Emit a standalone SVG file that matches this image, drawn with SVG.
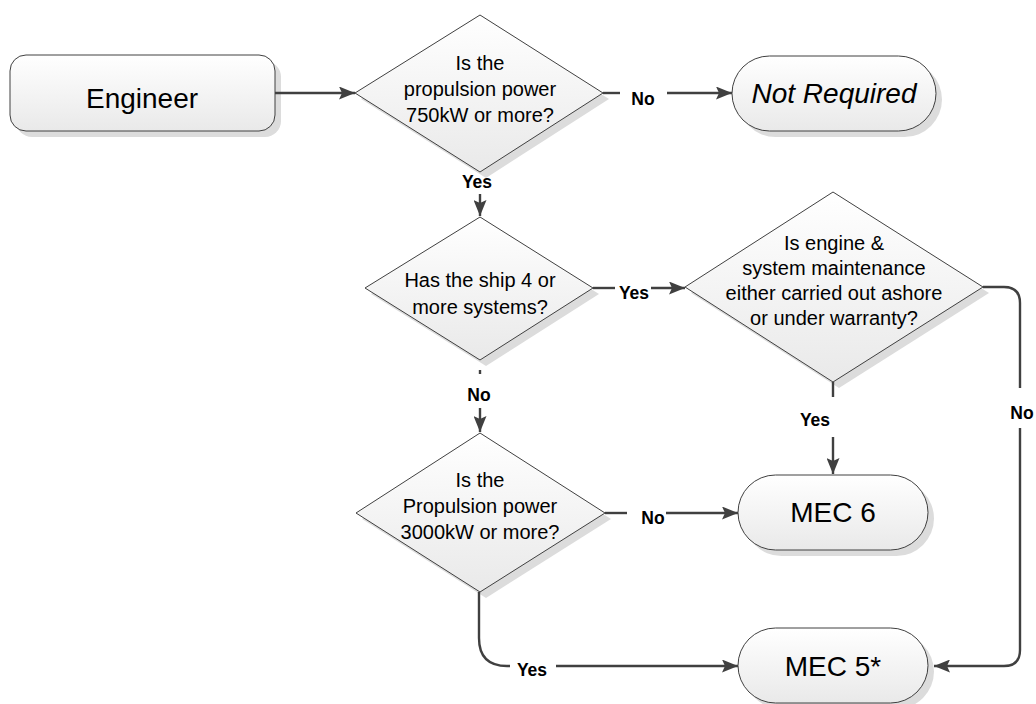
<svg xmlns="http://www.w3.org/2000/svg" width="1036" height="704" viewBox="0 0 1036 704">
<defs>
<linearGradient id="fillg" x1="0" y1="0" x2="0" y2="1">
<stop offset="0" stop-color="#ffffff"/>
<stop offset="1" stop-color="#e9e9e9"/>
</linearGradient>
<marker id="arr" markerUnits="userSpaceOnUse" viewBox="0 0 16 13" markerWidth="16" markerHeight="13" refX="16" refY="6.5" orient="auto">
<path d="M0,0 L16,6.5 L0,13 L3,6.5 z" fill="#404040"/>
</marker>
<style>
.shape{fill:url(#fillg);stroke:#404040;stroke-width:1}
.shadow{fill:#dcdcdc}
.txt{font-family:"Liberation Sans",Arial,sans-serif;fill:#000;text-anchor:middle}
.q{font-size:20px}
.big{font-size:28px}
.lbl{font-family:"Liberation Sans",Arial,sans-serif;font-weight:bold;font-size:17.5px;fill:#000;text-anchor:middle}
.con{fill:none;stroke:#404040;stroke-width:2.4}
</style>
</defs>
<rect width="1036" height="704" fill="#ffffff"/>

<g id="engineer">
<rect x="16" y="61" width="265" height="76" rx="16" class="shadow"/>
<rect x="10" y="55" width="265" height="76" rx="16" class="shape"/>
<text x="142" y="108" class="txt big">Engineer</text>
</g>

<g id="q1">
<polygon points="486,21 609,99 486,178 361,99" class="shadow"/>
<polygon points="480,15 603,93 480,172 355,93" class="shape"/>
<text class="txt q"><tspan x="480" y="70">Is the</tspan><tspan x="480" y="96">propulsion power</tspan><tspan x="480" y="122">750kW or more?</tspan></text>
</g>

<g id="notrequired">
<rect x="738" y="62" width="204" height="75" rx="37.5" class="shadow"/>
<rect x="732" y="56" width="204" height="75" rx="37.5" class="shape"/>
<text x="834" y="103" class="txt big" font-style="italic">Not Required</text>
</g>

<g id="q2">
<polygon points="486,223 599,294 486,366 371,294" class="shadow"/>
<polygon points="480,217 593,288 480,360 365,288" class="shape"/>
<text class="txt q"><tspan x="480" y="287">Has the ship 4 or</tspan><tspan x="480" y="314">more systems?</tspan></text>
</g>

<g id="q3">
<polygon points="839,198 989,293 839,388 691,293" class="shadow"/>
<polygon points="833,192 983,287 833,382 685,287" class="shape"/>
<text class="txt q"><tspan x="834" y="250">Is engine &amp;</tspan><tspan x="834" y="275">system maintenance</tspan><tspan x="834" y="300">either carried out ashore</tspan><tspan x="834" y="325">or under warranty?</tspan></text>
</g>

<g id="q4">
<polygon points="486,439 611,519 486,598 362,519" class="shadow"/>
<polygon points="480,433 605,513 480,592 356,513" class="shape"/>
<text class="txt q"><tspan x="480" y="487">Is the</tspan><tspan x="480" y="513">Propulsion power</tspan><tspan x="480" y="539">3000kW or more?</tspan></text>
</g>

<g id="mec6">
<rect x="744" y="481" width="190" height="75" rx="37.5" class="shadow"/>
<rect x="738" y="475" width="190" height="75" rx="37.5" class="shape"/>
<text x="833" y="522" class="txt big">MEC 6</text>
</g>

<g id="mec5">
<rect x="744" y="634" width="190" height="75" rx="37.5" class="shadow"/>
<rect x="738" y="628" width="190" height="75" rx="37.5" class="shape"/>
<text x="833" y="676" class="txt big">MEC 5*</text>
</g>

<g id="connectors">
<path d="M275,93 L355,93" class="con" marker-end="url(#arr)"/>
<path d="M603,93 L620,93" class="con"/>
<path d="M667,93 L732,93" class="con" marker-end="url(#arr)"/>
<path d="M480,194 L480,216" class="con" marker-end="url(#arr)"/>
<path d="M593,288 L615,288" class="con"/>
<path d="M651,288 L685,288" class="con" marker-end="url(#arr)"/>
<path d="M480,370 L480,374" class="con" stroke-width="1"/>
<path d="M480,408 L480,432" class="con" marker-end="url(#arr)"/>
<path d="M833,382 L833,397" class="con"/>
<path d="M833,437 L833,474" class="con" marker-end="url(#arr)"/>
<path d="M983,287 L1004,287 Q1020,287 1020,303 L1020,388" class="con"/>
<path d="M1020,428 L1020,650 Q1020,666 1004,666 L934,666" class="con" marker-end="url(#arr)"/>
<path d="M605,513 L627,513" class="con"/>
<path d="M666,513 L738,513" class="con" marker-end="url(#arr)"/>
<path d="M479,592 L479,638 Q479,666 507,666 L510,666" class="con"/>
<path d="M556,666 L738,666" class="con" marker-end="url(#arr)"/>
<text x="643" y="105" class="lbl">No</text>
<text x="477" y="188" class="lbl">Yes</text>
<text x="634" y="299" class="lbl">Yes</text>
<text x="479" y="401" class="lbl">No</text>
<text x="815" y="426" class="lbl">Yes</text>
<text x="1022" y="419" class="lbl">No</text>
<text x="653" y="524" class="lbl">No</text>
<text x="532" y="676" class="lbl">Yes</text>
</g>
</svg>
